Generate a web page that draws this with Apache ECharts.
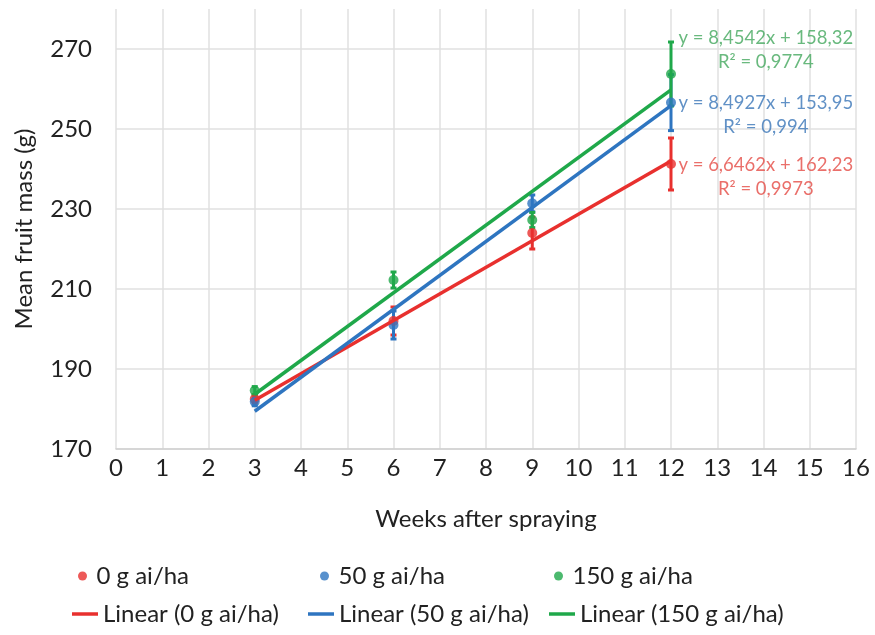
<!DOCTYPE html>
<html>
<head>
<meta charset="utf-8">
<script src="https://cdn.jsdelivr.net/npm/echarts@6/dist/echarts.min.js"></script>
<style>
html,body{margin:0;padding:0;background:#fff;}
#chart{width:875px;height:635px;}
</style>
</head>
<body>
<div id="chart"></div>
<script>
// ---- data ----
const weeks = [3, 6, 9, 12];
const mass0 = [182.5, 202, 224, 241.25];
const mass50 = [181.8, 201, 231.4, 256.6];
const mass150 = [184.6, 212.25, 227.25, 263.75];
const err0 = [1.0, 3.5, 4.0, 6.5];
const err50 = [1.0, 3.5, 2.1, 7.0];
const err150 = [1.0, 2.0, 1.9, 8.0];
// trendline end values at week 3 and week 12
const trendWeeks = [3, 12];
const trend0 = [182.17, 241.98];
const trend50 = [179.43, 255.86];
const trend150 = [183.68, 259.77];
const eqText0 = ['y = 6,6462x + 162,23', 'R² = 0,9973'];
const eqText50 = ['y = 8,4927x + 153,95', 'R² = 0,994'];
const eqText150 = ['y = 8,4542x + 158,32', 'R² = 0,9774'];
const xTicks = [0, 16, 1];
const yTicks = [170, 280, 20];
const seriesNames = ['0 g ai/ha', '50 g ai/ha', '150 g ai/ha'];
const trendNames = ['Linear (0 g ai/ha)', 'Linear (50 g ai/ha)', 'Linear (150 g ai/ha)'];

const RED = '#E8302E', BLUE = '#2E75C0', GREEN = '#1FA84A';
const RED_T = '#E54B45', BLUE_T = '#3A75B8', GREEN_T = '#44A85E';
const FONT = 'Lato';
const TXT = '#222222';
const FS = 24;

function pairs(xs, ys) { return xs.map((x, i) => [x, ys[i]]); }
function triples(xs, ys, es) { return xs.map((x, i) => [x, ys[i], es[i]]); }

function errRender(color) {
  return function (params, api) {
    const x = api.value(0), y = api.value(1), e = api.value(2);
    const top = api.coord([x, y + e]);
    const bot = api.coord([x, y - e]);
    const hw = 3;
    const st = { stroke: color, lineWidth: 3 };
    return {
      type: 'group',
      children: [
        { type: 'line', shape: { x1: top[0], y1: top[1], x2: bot[0], y2: bot[1] }, style: st },
        { type: 'line', shape: { x1: top[0] - hw, y1: top[1], x2: top[0] + hw, y2: top[1] }, style: st },
        { type: 'line', shape: { x1: bot[0] - hw, y1: bot[1], x2: bot[0] + hw, y2: bot[1] }, style: st }
      ]
    };
  };
}

function errSeries(ys, es, color) {
  return {
    type: 'custom', renderItem: errRender(color), data: triples(weeks, ys, es),
    z: 2, silent: true, encode: { x: 0, y: 1 }
  };
}

function scatterSeries(name, ys, color) {
  return {
    name: name, type: 'scatter', data: pairs(weeks, ys), symbol: 'circle', symbolSize: 10,
    itemStyle: { color: color }, z: 3
  };
}

function trendSeries(name, ys, color) {
  return {
    name: name, type: 'line', data: pairs(trendWeeks, ys), showSymbol: false, symbol: 'none',
    lineStyle: { color: color, width: 3.5 }, itemStyle: { color: color }, z: 4
  };
}

function eqSeries(lines, anchor, color) {
  return {
    type: 'scatter', data: [anchor], symbolSize: 0, silent: true, z: 5,
    label: {
      show: true, position: 'inside', formatter: lines.join('\n'),
      color: color, fontFamily: FONT, fontSize: 18.5, lineHeight: 24, align: 'center'
    }
  };
}

const chart = echarts.init(document.getElementById('chart'), null, { renderer: 'canvas' });

function legendItem(name, left, top, isLine) {
  return {
    data: [{ name: name, icon: isLine ? 'rect' : 'circle' }],
    left: left, top: top, orient: 'horizontal', padding: 0,
    itemWidth: isLine ? 26 : 18, itemHeight: isLine ? 3.5 : 9,
    textStyle: { fontFamily: FONT, fontSize: FS, color: TXT, lineHeight: 28 },
    selectedMode: false
  };
}

const option = {
  backgroundColor: '#ffffff',
  animation: false,
  textStyle: { fontFamily: FONT },
  grid: { left: 116, right: 19, top: 9, bottom: 186 },
  xAxis: {
    type: 'value', min: xTicks[0], max: xTicks[1], interval: xTicks[2],
    name: 'Weeks after spraying', nameLocation: 'middle', nameGap: 58,
    nameTextStyle: { fontFamily: FONT, fontSize: FS, color: TXT },
    axisLine: { show: true, lineStyle: { color: '#d0d0d0', width: 1.5 } },
    axisTick: { show: false },
    axisLabel: { fontFamily: FONT, fontSize: FS, color: TXT, margin: 7 },
    splitLine: { show: true, lineStyle: { color: '#e0e0e0', width: 1.5 } }
  },
  yAxis: {
    type: 'value', min: yTicks[0], max: yTicks[1], interval: yTicks[2],
    name: 'Mean fruit mass (g)', nameLocation: 'middle', nameGap: 80,
    nameTextStyle: { fontFamily: FONT, fontSize: FS, color: TXT },
    axisLine: { show: false },
    axisTick: { show: false },
    axisLabel: { fontFamily: FONT, fontSize: FS, color: TXT, margin: 24, showMaxLabel: false },
    splitLine: { show: true, showMaxLine: false, lineStyle: { color: '#e0e0e0', width: 1.5 } }
  },
  legend: [
    legendItem(seriesNames[0], 78, 562, false),
    legendItem(seriesNames[1], 320, 562, false),
    legendItem(seriesNames[2], 554, 562, false),
    legendItem(trendNames[0], 72, 600, true),
    legendItem(trendNames[1], 308, 600, true),
    legendItem(trendNames[2], 549, 600, true)
  ],
  series: [
    errSeries(mass0, err0, RED),
    errSeries(mass50, err50, BLUE),
    errSeries(mass150, err150, GREEN),
    scatterSeries(seriesNames[0], mass0, RED),
    scatterSeries(seriesNames[1], mass50, BLUE),
    scatterSeries(seriesNames[2], mass150, GREEN),
    trendSeries(trendNames[0], trend0, RED),
    trendSeries(trendNames[1], trend50, BLUE),
    trendSeries(trendNames[2], trend150, GREEN),
    eqSeries(eqText150, [14.05, 269.75], GREEN_T),
    eqSeries(eqText50, [14.05, 253.6], BLUE_T),
    eqSeries(eqText0, [14.05, 238], RED_T)
  ]
};
chart.setOption(option);
</script>
</body>
</html>
